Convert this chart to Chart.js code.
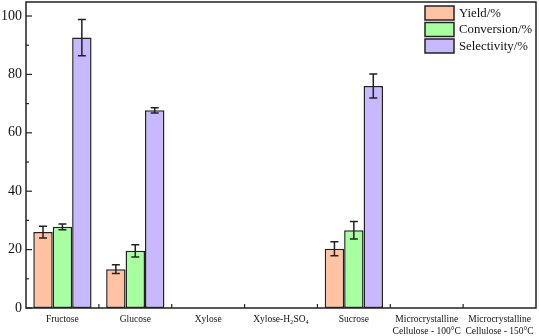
<!DOCTYPE html>
<html>
<head>
<meta charset="utf-8">
<script src="https://cdn.jsdelivr.net/npm/chart.js@4/dist/chart.umd.min.js"></script>
<style>
  html, body { margin: 0; padding: 0; background: #fff; }
  #wrap { width: 539px; height: 336px; }
</style>
</head>
<body>
<div id="wrap"><canvas id="sugarChart"></canvas></div>
<script>
const categories = ["Fructose", "Glucose", "Xylose", "Xylose-H\u2082SO\u2084", "Sucrose",
    ["Microcrystalline", "Cellulose - 100\u00b0C"], ["Microcrystalline", "Cellulose - 150\u00b0C"]];
const yieldVals = [26.0, 13.3, 0, 0, 20.3, 0, 0];
const yieldErr = [2.0, 1.5, 0, 0, 2.4, 0, 0];
const conversionVals = [27.8, 19.6, 0, 0, 26.6, 0, 0];
const conversionErr = [1.0, 2.1, 0, 0, 3.0, 0, 0];
const selectivityVals = [92.6, 67.7, 0, 0, 76.0, 0, 0];
const selectivityErr = [6.2, 0.9, 0, 0, 4.1, 0, 0];
const yTicks = [0, 20, 40, 60, 80, 100];

const serif = "'Liberation Serif', 'DejaVu Serif', serif";
const ink = "#222";

// error bars + inward ticks + frame + legend
const extrasPlugin = {
    id: "extras",
    afterDatasetsDraw(chart) {
        const ctx = chart.ctx;
        const y = chart.scales.y;
        const x = chart.scales.x;
        const area = chart.chartArea;
        ctx.save();
        ctx.strokeStyle = ink;
        ctx.lineWidth = 1.5;
        chart.data.datasets.forEach((ds, i) => {
            const meta = chart.getDatasetMeta(i);
            meta.data.forEach((bar, j) => {
                const e = ds.errors[j];
                if (!e) return;
                const v = ds.data[j];
                const top = y.getPixelForValue(v + e);
                const bot = y.getPixelForValue(v - e);
                ctx.beginPath();
                ctx.moveTo(bar.x, top); ctx.lineTo(bar.x, bot);
                ctx.moveTo(bar.x - 4, top); ctx.lineTo(bar.x + 4, top);
                ctx.moveTo(bar.x - 4, bot); ctx.lineTo(bar.x + 4, bot);
                ctx.stroke();
            });
        });
        // frame
        ctx.lineWidth = 1.5;
        ctx.strokeRect(area.left, area.top, area.right - area.left, area.bottom - area.top);
        // y ticks (inward)
        ctx.lineWidth = 1.2;
        for (let v = 0; v <= 100; v += 10) {
            const py = y.getPixelForValue(v);
            const len = v % 20 === 0 ? 6 : 3;
            ctx.beginPath();
            ctx.moveTo(area.left, py); ctx.lineTo(area.left + len, py);
            ctx.stroke();
        }
        // x ticks between categories (inward)
        for (let k = 1; k < categories.length; k++) {
            const px = (x.getPixelForValue(k - 1) + x.getPixelForValue(k)) / 2;
            ctx.beginPath();
            ctx.moveTo(px, area.bottom); ctx.lineTo(px, area.bottom - 4);
            ctx.stroke();
        }
        // legend
        let ly = area.top + 4;
        chart.data.datasets.forEach(ds => {
            ctx.fillStyle = ds.backgroundColor;
            ctx.fillRect(425, ly, 29, 14);
            ctx.strokeStyle = ink;
            ctx.lineWidth = 1.5;
            ctx.strokeRect(425, ly, 29, 14);
            ctx.fillStyle = "#111";
            ctx.font = "12.8px " + serif;
            ctx.textBaseline = "middle";
            ctx.fillText(ds.label, 459, ly + 7.5);
            ly += 16.5;
        });
        ctx.restore();
    }
};

new Chart(document.getElementById("sugarChart"), {
    type: "bar",
    data: {
        labels: categories,
        datasets: [
            { label: "Yield/%", data: yieldVals, errors: yieldErr, backgroundColor: "#ffc3a3" },
            { label: "Conversion/%", data: conversionVals, errors: conversionErr, backgroundColor: "#a8ffa0" },
            { label: "Selectivity/%", data: selectivityVals, errors: selectivityErr, backgroundColor: "#c8b8ff" }
        ].map(d => Object.assign(d, { borderColor: ink, borderWidth: 1.5, borderSkipped: false }))
    },
    options: {
        responsive: true,
        maintainAspectRatio: false,
        animation: false,
        layout: { padding: { top: 2, right: 3, left: 0, bottom: 0 } },
        datasets: { bar: { categoryPercentage: 0.8, barPercentage: 1.0 } },
        plugins: { legend: { display: false }, tooltip: { enabled: false } },
        scales: {
            x: {
                grid: { display: false, drawTicks: false },
                border: { display: false },
                ticks: { color: "#111", font: { family: serif, size: 9.5, lineHeight: 1.25 }, padding: 6, maxRotation: 0, autoSkip: false },
                afterFit(s) { s.height = 28; s.paddingLeft = 0; s.paddingRight = 0; }
            },
            y: {
                min: 0,
                max: 104.8,
                afterBuildTicks(s) { s.ticks = yTicks.map(v => ({ value: v })); },
                grid: { display: false, drawTicks: false },
                border: { display: false },
                ticks: { color: "#111", font: { family: serif, size: 14 }, padding: 4 },
                afterFit(s) { s.width = 26; s.paddingTop = 0; s.paddingBottom = 0; }
            }
        }
    },
    plugins: [extrasPlugin]
});
</script>
</body>
</html>
